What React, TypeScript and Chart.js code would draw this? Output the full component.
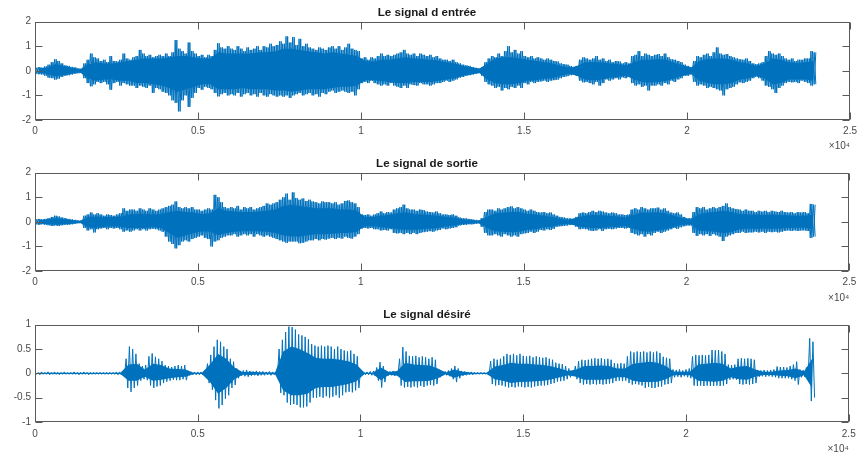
import React, { useEffect, useRef } from "react";
import { Chart, registerables } from "chart.js";

Chart.register(...registerables);

// Sample spacing of each peak/trough bin, and of each solid-core bin (samples)
const sampleStep = 100;
const coreStep = 250;

const titles = ["Le signal d entrée", "Le signal de sortie", "Le signal désiré"];
const xTickStep = 5000;
const xMax = 25000;
const xExponentLabel = "×10⁴";

// ---------- Input signal: per-100-sample peak / trough ----------
const inputHi = [
  0.12, 0.15, 0.13, 0.18, 0.25, 0.35, 0.47, 0.4, 0.3, 0.22,
  0.2, 0.16, 0.14, 0.1, 0.08, 0.3, 0.45, 0.7, 0.55, 0.5,
  0.4, 0.45, 0.35, 0.6, 0.4, 0.38, 0.45, 0.7, 0.5, 0.45,
  0.55, 0.6, 0.85, 0.7, 0.6, 0.65, 0.55, 0.6, 0.65, 0.6,
  0.7, 0.6, 0.75, 1.25, 0.9, 0.8, 0.7, 1.15, 0.8, 0.7,
  0.6, 0.65, 0.55, 0.65, 0.6, 0.85, 1.12, 0.95, 0.9, 1.0,
  0.9, 0.85, 1.0, 0.9, 0.8, 0.95, 0.85, 0.9, 1.0, 0.85,
  1.0, 0.95, 1.1, 1.0, 1.05, 1.2, 1.1, 1.4, 1.15, 1.37,
  1.05, 1.3, 1.0, 1.1, 0.95, 0.9, 0.85, 0.95, 0.9, 0.85,
  0.95, 1.0, 0.9, 1.0, 0.85, 0.95, 1.1, 0.9, 0.85, 0.8,
  0.5, 0.55, 0.45, 0.55, 0.5, 0.6, 0.7, 0.6, 0.65, 0.6,
  0.65, 0.7, 0.75, 0.85, 0.7, 0.65, 0.7, 0.6, 0.7, 0.65,
  0.6, 0.65, 0.55, 0.6, 0.5, 0.45, 0.45, 0.4, 0.45, 0.35,
  0.3, 0.25, 0.22, 0.2, 0.15, 0.12, 0.1, 0.15, 0.35, 0.5,
  0.6, 0.55, 0.7, 0.6, 0.8, 1.0, 0.75, 0.85, 0.7, 0.8,
  0.6, 0.55, 0.6, 0.5, 0.55, 0.5, 0.45, 0.5, 0.45, 0.4,
  0.38, 0.3, 0.27, 0.25, 0.2, 0.15, 0.2, 0.45, 0.55, 0.5,
  0.45, 0.5, 0.6, 0.45, 0.5, 0.4, 0.45, 0.35, 0.4, 0.38,
  0.3, 0.35, 0.3, 0.6, 0.65, 0.8, 0.6, 0.7, 0.65, 0.6,
  0.65, 0.68, 0.6, 0.7, 0.55, 0.47, 0.45, 0.4, 0.35, 0.25,
  0.2, 0.15, 0.4, 0.6, 0.55, 0.65, 0.7, 0.6, 0.75, 0.95,
  0.7, 0.65, 0.68, 0.6, 0.55, 0.5, 0.47, 0.45, 0.5, 0.4,
  0.3, 0.27, 0.3, 0.35, 0.6, 0.8, 0.7, 0.65, 0.7, 0.6,
  0.5, 0.45, 0.5, 0.4, 0.45, 0.45, 0.5, 0.5, 0.8, 0.75,
];
const inputLo = [
  -0.12, -0.14, -0.15, -0.2, -0.28, -0.3, -0.36, -0.32, -0.25, -0.2,
  -0.18, -0.15, -0.12, -0.1, -0.08, -0.3, -0.5, -0.63, -0.55, -0.45,
  -0.5, -0.45, -0.55, -0.77, -0.5, -0.45, -0.6, -0.5, -0.55, -0.6,
  -0.6, -0.7, -0.6, -0.65, -0.7, -0.6, -0.9, -0.7, -0.75, -0.85,
  -0.9, -1.0, -1.2, -1.3, -1.65, -1.2, -1.0, -1.47, -1.1, -0.9,
  -0.7, -0.77, -0.65, -0.7, -0.75, -0.9, -1.04, -0.95, -0.9, -1.0,
  -0.95, -1.0, -0.9, -1.05, -0.95, -0.9, -1.0, -0.95, -1.05, -0.9,
  -1.0, -1.05, -0.95, -1.0, -1.05, -1.0, -1.05, -1.0, -1.1, -1.0,
  -0.95, -0.9, -1.0, -0.95, -0.9, -1.0, -0.95, -1.05, -0.9, -0.95,
  -0.85, -0.8, -0.9, -0.85, -0.8, -0.85, -0.9, -0.85, -1.0, -0.75,
  -0.5, -0.45, -0.5, -0.4, -0.5, -0.55, -0.6, -0.55, -0.6, -0.5,
  -0.6, -0.65, -0.7, -0.6, -0.7, -0.55, -0.58, -0.6, -0.5, -0.55,
  -0.55, -0.6, -0.55, -0.5, -0.5, -0.45, -0.4, -0.45, -0.4, -0.35,
  -0.28, -0.25, -0.2, -0.18, -0.15, -0.12, -0.1, -0.2, -0.45, -0.55,
  -0.6, -0.7, -0.65, -0.8, -0.7, -0.75, -0.65, -0.7, -0.6, -0.7,
  -0.5, -0.55, -0.45, -0.5, -0.45, -0.43, -0.4, -0.45, -0.4, -0.38,
  -0.36, -0.3, -0.25, -0.22, -0.18, -0.15, -0.2, -0.4, -0.47, -0.45,
  -0.5, -0.55, -0.45, -0.6, -0.5, -0.35, -0.4, -0.35, -0.3, -0.35,
  -0.27, -0.3, -0.25, -0.5, -0.6, -0.55, -0.65, -0.6, -0.8, -0.6,
  -0.6, -0.55, -0.6, -0.5, -0.55, -0.4, -0.45, -0.35, -0.3, -0.2,
  -0.2, -0.15, -0.45, -0.6, -0.55, -0.6, -0.7, -0.65, -0.7, -0.75,
  -0.8, -1.0, -0.75, -0.7, -0.65, -0.55, -0.47, -0.5, -0.45, -0.4,
  -0.3, -0.25, -0.3, -0.4, -0.6, -0.65, -0.75, -0.9, -0.7, -0.6,
  -0.5, -0.45, -0.47, -0.45, -0.5, -0.4, -0.45, -0.5, -0.6, -0.55,
];
// Input signal: solid core, per 250 samples
const inputCoreHi = [
  0.1, 0.12, 0.28, 0.2, 0.12, 0.06, 0.25, 0.35, 0.3, 0.3,
  0.35, 0.4, 0.45, 0.5, 0.5, 0.5, 0.55, 0.6, 0.6, 0.55,
  0.5, 0.5, 0.75, 0.7, 0.7, 0.7, 0.7, 0.75, 0.75, 0.8,
  0.9, 0.9, 0.85, 0.8, 0.75, 0.7, 0.75, 0.7, 0.65, 0.6,
  0.4, 0.38, 0.45, 0.45, 0.5, 0.55, 0.5, 0.48, 0.45, 0.42,
  0.35, 0.3, 0.2, 0.15, 0.08, 0.3, 0.5, 0.55, 0.55, 0.5,
  0.45, 0.4, 0.35, 0.3, 0.2, 0.12, 0.2, 0.35, 0.35, 0.35,
  0.3, 0.28, 0.22, 0.35, 0.45, 0.45, 0.48, 0.45, 0.32, 0.22,
  0.12, 0.4, 0.48, 0.5, 0.5, 0.45, 0.35, 0.3, 0.2, 0.3,
  0.5, 0.45, 0.35, 0.32, 0.35, 0.4,
];
const inputCoreLo = [
  -0.08, -0.12, -0.22, -0.18, -0.12, -0.06, -0.3, -0.4, -0.35, -0.35,
  -0.4, -0.4, -0.5, -0.5, -0.55, -0.6, -0.7, -0.85, -0.75, -0.65,
  -0.55, -0.55, -0.75, -0.75, -0.75, -0.7, -0.75, -0.75, -0.75, -0.8,
  -0.8, -0.85, -0.8, -0.75, -0.75, -0.75, -0.7, -0.65, -0.65, -0.6,
  -0.38, -0.38, -0.42, -0.45, -0.5, -0.5, -0.45, -0.45, -0.45, -0.4,
  -0.35, -0.3, -0.2, -0.15, -0.08, -0.35, -0.5, -0.55, -0.55, -0.5,
  -0.4, -0.38, -0.32, -0.3, -0.2, -0.12, -0.2, -0.35, -0.38, -0.35,
  -0.28, -0.25, -0.2, -0.35, -0.45, -0.48, -0.45, -0.4, -0.3, -0.2,
  -0.12, -0.4, -0.5, -0.55, -0.55, -0.5, -0.35, -0.3, -0.2, -0.3,
  -0.55, -0.5, -0.35, -0.35, -0.35, -0.4,
];

// ---------- Output signal ----------
const outputHi = [
  0.1, 0.12, 0.1, 0.12, 0.15, 0.2, 0.25, 0.22, 0.18, 0.15,
  0.12, 0.1, 0.08, 0.06, 0.05, 0.25, 0.3, 0.38, 0.3, 0.35,
  0.3, 0.25, 0.3, 0.28, 0.25, 0.3, 0.35, 0.55, 0.45, 0.5,
  0.5, 0.45, 0.55, 0.5, 0.45, 0.55, 0.5, 0.45, 0.5, 0.55,
  0.6, 0.65, 0.7, 0.83, 0.6, 0.55, 0.6, 0.55, 0.6, 0.5,
  0.5, 0.45, 0.5, 0.55, 0.5, 1.1, 1.0, 0.8, 0.6, 0.55,
  0.6, 0.55, 0.65, 0.5, 0.6, 0.55, 0.6, 0.5, 0.55, 0.6,
  0.65, 0.75, 0.7, 0.75, 0.8, 0.9, 1.0, 1.15, 0.9, 1.2,
  0.97, 0.9, 0.95, 0.85, 0.9, 0.83, 0.8, 0.75, 0.83, 0.8,
  0.8, 0.75, 0.8, 0.7, 0.75, 0.85, 0.87, 0.8, 0.75, 0.6,
  0.3, 0.28, 0.3, 0.25, 0.3, 0.35, 0.42, 0.35, 0.4, 0.38,
  0.5, 0.55, 0.6, 0.7, 0.55, 0.5, 0.5, 0.45, 0.5, 0.48,
  0.42, 0.4, 0.38, 0.42, 0.35, 0.3, 0.3, 0.28, 0.3, 0.25,
  0.18, 0.15, 0.14, 0.12, 0.1, 0.08, 0.07, 0.15, 0.4, 0.5,
  0.5, 0.45, 0.55, 0.5, 0.55, 0.6, 0.63, 0.55, 0.6, 0.55,
  0.5, 0.45, 0.5, 0.45, 0.4, 0.38, 0.4, 0.35, 0.38, 0.3,
  0.25, 0.2, 0.18, 0.15, 0.14, 0.12, 0.2, 0.35, 0.38, 0.35,
  0.4, 0.45, 0.4, 0.45, 0.42, 0.38, 0.35, 0.38, 0.35, 0.3,
  0.3, 0.28, 0.3, 0.5, 0.55, 0.5, 0.6, 0.55, 0.5, 0.55,
  0.55, 0.58, 0.5, 0.55, 0.45, 0.38, 0.35, 0.38, 0.3, 0.2,
  0.15, 0.15, 0.4, 0.6, 0.55, 0.6, 0.5, 0.55, 0.6, 0.55,
  0.6, 0.65, 0.75, 0.6, 0.55, 0.52, 0.5, 0.45, 0.5, 0.45,
  0.45, 0.4, 0.45, 0.42, 0.45, 0.4, 0.45, 0.42, 0.4, 0.45,
  0.4, 0.38, 0.4, 0.35, 0.4, 0.38, 0.4, 0.35, 0.73, 0.7,
];
const outputLo = [
  -0.1, -0.12, -0.1, -0.12, -0.14, -0.17, -0.15, -0.17, -0.14, -0.12,
  -0.12, -0.1, -0.08, -0.06, -0.05, -0.25, -0.35, -0.3, -0.43, -0.3,
  -0.27, -0.25, -0.3, -0.25, -0.27, -0.25, -0.3, -0.4, -0.35, -0.4,
  -0.35, -0.3, -0.35, -0.3, -0.35, -0.3, -0.28, -0.3, -0.35, -0.4,
  -0.6, -0.8, -0.9, -1.08, -0.95, -0.8, -0.75, -0.8, -0.7, -0.65,
  -0.6, -0.55, -0.65, -0.7, -1.0, -0.8, -0.75, -0.65, -0.6, -0.55,
  -0.55, -0.5, -0.6, -0.55, -0.5, -0.55, -0.5, -0.6, -0.5, -0.55,
  -0.6, -0.55, -0.6, -0.65, -0.7, -0.75, -0.8, -0.85, -0.8, -0.8,
  -0.8, -0.87, -0.85, -0.8, -0.75, -0.75, -0.7, -0.75, -0.7, -0.72,
  -0.68, -0.65, -0.7, -0.65, -0.68, -0.6, -0.65, -0.68, -0.6, -0.5,
  -0.27, -0.25, -0.27, -0.25, -0.3, -0.3, -0.35, -0.33, -0.35, -0.3,
  -0.45, -0.47, -0.45, -0.5, -0.45, -0.5, -0.45, -0.5, -0.45, -0.42,
  -0.4, -0.38, -0.4, -0.35, -0.33, -0.27, -0.3, -0.27, -0.25, -0.22,
  -0.15, -0.13, -0.12, -0.1, -0.1, -0.08, -0.07, -0.2, -0.45, -0.55,
  -0.55, -0.5, -0.55, -0.6, -0.5, -0.55, -0.6, -0.55, -0.6, -0.5,
  -0.47, -0.45, -0.4, -0.45, -0.4, -0.33, -0.35, -0.3, -0.33, -0.28,
  -0.2, -0.18, -0.17, -0.15, -0.13, -0.12, -0.2, -0.3, -0.28, -0.3,
  -0.35, -0.37, -0.35, -0.3, -0.37, -0.3, -0.28, -0.3, -0.27, -0.25,
  -0.25, -0.27, -0.25, -0.45, -0.5, -0.55, -0.5, -0.6, -0.5, -0.55,
  -0.45, -0.4, -0.45, -0.4, -0.35, -0.3, -0.25, -0.28, -0.22, -0.18,
  -0.15, -0.15, -0.45, -0.57, -0.5, -0.55, -0.5, -0.57, -0.5, -0.55,
  -0.6, -0.78, -0.6, -0.55, -0.5, -0.45, -0.45, -0.4, -0.45, -0.43,
  -0.43, -0.4, -0.43, -0.4, -0.45, -0.4, -0.42, -0.4, -0.43, -0.4,
  -0.37, -0.35, -0.37, -0.35, -0.37, -0.35, -0.35, -0.37, -0.65, -0.6,
];
const outputCoreHi = [
  0.08, 0.1, 0.15, 0.12, 0.08, 0.04, 0.2, 0.22, 0.2, 0.2,
  0.22, 0.3, 0.32, 0.32, 0.3, 0.32, 0.4, 0.45, 0.4, 0.38,
  0.32, 0.35, 0.55, 0.45, 0.42, 0.4, 0.4, 0.42, 0.45, 0.5,
  0.65, 0.7, 0.65, 0.6, 0.55, 0.55, 0.55, 0.5, 0.5, 0.45,
  0.2, 0.2, 0.25, 0.28, 0.35, 0.38, 0.32, 0.3, 0.28, 0.25,
  0.2, 0.17, 0.1, 0.08, 0.05, 0.2, 0.35, 0.38, 0.4, 0.4,
  0.32, 0.3, 0.25, 0.2, 0.12, 0.08, 0.18, 0.25, 0.28, 0.27,
  0.25, 0.22, 0.18, 0.28, 0.38, 0.38, 0.38, 0.35, 0.25, 0.15,
  0.1, 0.3, 0.38, 0.4, 0.45, 0.4, 0.32, 0.3, 0.3, 0.28,
  0.3, 0.28, 0.27, 0.25, 0.25, 0.3,
];
const outputCoreLo = [
  -0.07, -0.09, -0.12, -0.1, -0.08, -0.04, -0.22, -0.25, -0.2, -0.18,
  -0.2, -0.25, -0.25, -0.25, -0.22, -0.25, -0.45, -0.65, -0.55, -0.45,
  -0.38, -0.4, -0.55, -0.45, -0.4, -0.38, -0.38, -0.38, -0.4, -0.45,
  -0.55, -0.6, -0.6, -0.55, -0.5, -0.5, -0.48, -0.45, -0.45, -0.4,
  -0.18, -0.18, -0.22, -0.25, -0.3, -0.32, -0.32, -0.3, -0.27, -0.25,
  -0.18, -0.15, -0.09, -0.07, -0.05, -0.25, -0.38, -0.4, -0.42, -0.4,
  -0.32, -0.3, -0.22, -0.2, -0.12, -0.08, -0.17, -0.22, -0.25, -0.25,
  -0.22, -0.2, -0.17, -0.28, -0.38, -0.4, -0.35, -0.3, -0.2, -0.12,
  -0.1, -0.35, -0.38, -0.4, -0.45, -0.42, -0.3, -0.28, -0.28, -0.27,
  -0.28, -0.27, -0.25, -0.24, -0.24, -0.3,
];

// ---------- Desired signal ----------
const desiredHi = [
  0.03, 0.02, 0.03, 0.02, 0.03, 0.02, 0.03, 0.02, 0.02, 0.03,
  0.02, 0.02, 0.03, 0.02, 0.02, 0.03, 0.02, 0.02, 0.02, 0.02,
  0.02, 0.02, 0.02, 0.02, 0.02, 0.03, 0.03, 0.04, 0.3, 0.55,
  0.5, 0.4, 0.2, 0.15, 0.17, 0.35, 0.41, 0.34, 0.3, 0.25,
  0.17, 0.15, 0.13, 0.15, 0.17, 0.15, 0.17, 0.04, 0.03, 0.03,
  0.03, 0.03, 0.04, 0.2, 0.38, 0.55, 0.69, 0.65, 0.55, 0.5,
  0.3, 0.24, 0.1, 0.05, 0.06, 0.07, 0.05, 0.04, 0.05, 0.04,
  0.04, 0.03, 0.04, 0.03, 0.03, 0.5, 0.69, 0.85, 0.96, 0.95,
  0.9, 0.8, 0.78, 0.75, 0.7, 0.6, 0.57, 0.55, 0.57, 0.55,
  0.57, 0.55, 0.5, 0.55, 0.5, 0.47, 0.45, 0.47, 0.4, 0.35,
  0.04, 0.03, 0.03, 0.04, 0.05, 0.12, 0.23, 0.15, 0.05, 0.04,
  0.05, 0.04, 0.3, 0.54, 0.45, 0.36, 0.35, 0.36, 0.33, 0.35,
  0.33, 0.3, 0.33, 0.28, 0.08, 0.03, 0.04, 0.06, 0.1, 0.15,
  0.1, 0.05, 0.04, 0.03, 0.03, 0.02, 0.02, 0.02, 0.02, 0.02,
  0.25, 0.3, 0.28, 0.3, 0.35, 0.4, 0.38, 0.4, 0.37, 0.4,
  0.36, 0.35, 0.36, 0.33, 0.35, 0.33, 0.32, 0.33, 0.3, 0.28,
  0.22, 0.2, 0.19, 0.15, 0.1, 0.05, 0.15, 0.25, 0.28, 0.27,
  0.28, 0.3, 0.31, 0.3, 0.31, 0.29, 0.3, 0.28, 0.21, 0.2,
  0.21, 0.2, 0.35, 0.45, 0.43, 0.45, 0.44, 0.45, 0.43, 0.45,
  0.43, 0.45, 0.42, 0.34, 0.32, 0.3, 0.08, 0.07, 0.08, 0.06,
  0.08, 0.1, 0.35, 0.38, 0.37, 0.38, 0.37, 0.38, 0.48, 0.47,
  0.48, 0.45, 0.4, 0.18, 0.17, 0.18, 0.3, 0.31, 0.3, 0.31,
  0.3, 0.28, 0.07, 0.06, 0.07, 0.06, 0.07, 0.08, 0.14, 0.13,
  0.13, 0.12, 0.15, 0.18, 0.24, 0.08, 0.07, 0.12, 0.72, 0.65,
];
const desiredLo = [
  -0.02, -0.03, -0.02, -0.02, -0.03, -0.02, -0.02, -0.03, -0.02, -0.02,
  -0.02, -0.02, -0.02, -0.03, -0.02, -0.02, -0.03, -0.02, -0.02, -0.02,
  -0.02, -0.02, -0.02, -0.02, -0.02, -0.03, -0.03, -0.04, -0.3, -0.38,
  -0.3, -0.25, -0.15, -0.12, -0.14, -0.25, -0.3, -0.27, -0.25, -0.2,
  -0.17, -0.15, -0.13, -0.14, -0.14, -0.12, -0.14, -0.04, -0.03, -0.03,
  -0.03, -0.03, -0.04, -0.2, -0.34, -0.55, -0.72, -0.65, -0.52, -0.45,
  -0.3, -0.24, -0.1, -0.05, -0.06, -0.07, -0.05, -0.04, -0.05, -0.04,
  -0.04, -0.03, -0.04, -0.03, -0.03, -0.4, -0.45, -0.6, -0.65, -0.63,
  -0.65, -0.7, -0.7, -0.68, -0.6, -0.5, -0.5, -0.48, -0.5, -0.47,
  -0.5, -0.48, -0.45, -0.5, -0.45, -0.39, -0.38, -0.39, -0.35, -0.3,
  -0.04, -0.03, -0.03, -0.04, -0.05, -0.15, -0.29, -0.18, -0.05, -0.04,
  -0.05, -0.04, -0.25, -0.29, -0.28, -0.29, -0.27, -0.29, -0.26, -0.28,
  -0.25, -0.24, -0.25, -0.22, -0.08, -0.03, -0.04, -0.06, -0.12, -0.18,
  -0.1, -0.05, -0.04, -0.03, -0.03, -0.02, -0.02, -0.02, -0.02, -0.02,
  -0.22, -0.25, -0.24, -0.25, -0.27, -0.29, -0.28, -0.29, -0.27, -0.28,
  -0.29, -0.28, -0.29, -0.27, -0.26, -0.25, -0.25, -0.24, -0.22, -0.2,
  -0.17, -0.16, -0.15, -0.12, -0.08, -0.05, -0.12, -0.2, -0.23, -0.22,
  -0.23, -0.22, -0.23, -0.22, -0.23, -0.22, -0.21, -0.2, -0.16, -0.15,
  -0.16, -0.15, -0.2, -0.23, -0.22, -0.23, -0.25, -0.3, -0.28, -0.3,
  -0.3, -0.28, -0.27, -0.23, -0.22, -0.2, -0.08, -0.07, -0.08, -0.06,
  -0.08, -0.1, -0.25, -0.26, -0.25, -0.26, -0.25, -0.26, -0.26, -0.25,
  -0.26, -0.25, -0.22, -0.13, -0.12, -0.13, -0.22, -0.23, -0.22, -0.23,
  -0.22, -0.2, -0.07, -0.06, -0.07, -0.06, -0.07, -0.08, -0.1, -0.1,
  -0.1, -0.1, -0.12, -0.15, -0.23, -0.08, -0.07, -0.1, -0.57, -0.5,
];
const desiredCoreHi = [
  0.012, 0.012, 0.012, 0.012, 0.012, 0.012, 0.012, 0.012, 0.012, 0.012,
  0.012, 0.18, 0.2, 0.08, 0.2, 0.17, 0.1, 0.09, 0.08, 0.015,
  0.015, 0.18, 0.4, 0.3, 0.12, 0.03, 0.035, 0.025, 0.02, 0.02,
  0.45, 0.55, 0.5, 0.42, 0.32, 0.3, 0.3, 0.28, 0.25, 0.18,
  0.015, 0.015, 0.12, 0.03, 0.05, 0.22, 0.18, 0.17, 0.16, 0.1,
  0.02, 0.08, 0.04, 0.02, 0.012, 0.012, 0.14, 0.17, 0.22, 0.2,
  0.2, 0.18, 0.17, 0.14, 0.1, 0.05, 0.08, 0.15, 0.15, 0.16,
  0.15, 0.1, 0.1, 0.2, 0.22, 0.24, 0.22, 0.15, 0.04, 0.035,
  0.04, 0.18, 0.2, 0.22, 0.2, 0.1, 0.14, 0.15, 0.08, 0.035,
  0.035, 0.06, 0.07, 0.1, 0.04, 0.3,
];
const desiredCoreLo = [
  -0.012, -0.012, -0.012, -0.012, -0.012, -0.012, -0.012, -0.012, -0.012, -0.012,
  -0.012, -0.15, -0.15, -0.07, -0.15, -0.13, -0.1, -0.08, -0.07, -0.015,
  -0.015, -0.18, -0.42, -0.3, -0.12, -0.03, -0.035, -0.025, -0.02, -0.02,
  -0.35, -0.45, -0.45, -0.42, -0.3, -0.28, -0.28, -0.25, -0.22, -0.16,
  -0.015, -0.015, -0.14, -0.03, -0.05, -0.18, -0.16, -0.16, -0.15, -0.1,
  -0.02, -0.09, -0.04, -0.02, -0.012, -0.012, -0.12, -0.15, -0.2, -0.18,
  -0.17, -0.16, -0.15, -0.12, -0.08, -0.04, -0.07, -0.13, -0.13, -0.13,
  -0.12, -0.08, -0.08, -0.15, -0.18, -0.18, -0.17, -0.12, -0.04, -0.035,
  -0.04, -0.15, -0.16, -0.17, -0.15, -0.08, -0.12, -0.13, -0.07, -0.035,
  -0.035, -0.05, -0.06, -0.1, -0.04, -0.3,
];

const yRanges = [
  { min: -2, max: 2, step: 1 },
  { min: -2, max: 2, step: 1 },
  { min: -1, max: 1, step: 0.5 },
];

const FONT = "'Liberation Sans', Arial, Helvetica, sans-serif";
const AXIS_COLOR = "#4a4a4a";
const BOX_COLOR = "#5a5a5a";
const LINE_COLOR = "#0072BD";

// Peak/trough strokes: each 100-sample bin goes from its peak to its trough
// (phase 1 runs the opposite way, to densify the trace).
function strokes(hi: number[], lo: number[], phase: 0 | 1) {
  const pts: { x: number; y: number }[] = [];
  for (let i = 0; i < hi.length; i++) {
    pts.push({ x: i * sampleStep, y: phase === 0 ? hi[i] : lo[i] });
    pts.push({ x: i * sampleStep + sampleStep / 2, y: phase === 0 ? lo[i] : hi[i] });
  }
  return pts;
}

// Core outline points at the centre of each core bin
function corePoints(v: number[]) {
  return v.map((y, j) => ({ x: j * coreStep + coreStep / 2, y }));
}

const matlabAxes = {
  id: "matlabAxes",
  afterDatasetsDraw(chart: any) {
    const { ctx, chartArea: a, scales } = chart;
    const L = Math.round(a.left) + 0.5;
    const R = Math.round(a.right) - 0.5;
    const T = Math.round(a.top) + 0.5;
    const B = Math.round(a.bottom) - 0.5;
    const tl = 7;
    ctx.save();
    ctx.strokeStyle = BOX_COLOR;
    ctx.lineWidth = 1;
    ctx.beginPath();
    for (const t of scales.x.ticks) {
      const px = Math.round(scales.x.getPixelForValue(t.value)) + 0.5;
      ctx.moveTo(px, B);
      ctx.lineTo(px, B - tl);
      ctx.moveTo(px, T);
      ctx.lineTo(px, T + tl);
    }
    for (const t of scales.y.ticks) {
      const py = Math.round(scales.y.getPixelForValue(t.value)) + 0.5;
      ctx.moveTo(L, py);
      ctx.lineTo(L + tl, py);
      ctx.moveTo(R, py);
      ctx.lineTo(R - tl, py);
    }
    ctx.stroke();
    ctx.strokeRect(L, T, R - L, B - T);
    ctx.restore();
  },
};

type Panel = {
  title: string;
  hi: number[];
  lo: number[];
  coreHi: number[];
  coreLo: number[];
  dense: boolean;
  y: { min: number; max: number; step: number };
  top: number;
  height: number;
  titlePadTop: number;
  titlePadBottom: number;
  xAxisHeight: number;
  tickPad: number;
  expPadBottom: number;
};

const panels: Panel[] = [
  { title: titles[0], hi: inputHi, lo: inputLo, coreHi: inputCoreHi, coreLo: inputCoreLo, dense: true, y: yRanges[0], top: 0, height: 158, titlePadTop: 5.5, titlePadBottom: 2.2, xAxisHeight: 38, tickPad: 5, expPadBottom: 6 },
  { title: titles[1], hi: outputHi, lo: outputLo, coreHi: outputCoreHi, coreLo: outputCoreLo, dense: true, y: yRanges[1], top: 150, height: 158, titlePadTop: 6.5, titlePadBottom: 2.3, xAxisHeight: 37, tickPad: 5.7, expPadBottom: 4 },
  { title: titles[2], hi: desiredHi, lo: desiredLo, coreHi: desiredCoreHi, coreLo: desiredCoreLo, dense: false, y: yRanges[2], top: 300, height: 159, titlePadTop: 8.2, titlePadBottom: 2.6, xAxisHeight: 37, tickPad: 6.3, expPadBottom: 4 },
];

function SignalPlot({ p }: { p: Panel }) {
  const ref = useRef<HTMLCanvasElement | null>(null);
  useEffect(() => {
    if (!ref.current) return;
    const strokeSet = (phase: 0 | 1) => ({
      data: strokes(p.hi, p.lo, phase),
      borderColor: LINE_COLOR,
      borderWidth: 1,
      pointRadius: 0,
      fill: false,
      tension: 0,
    });
    const datasets: any[] = [
      {
        data: corePoints(p.coreHi),
        borderColor: LINE_COLOR,
        backgroundColor: LINE_COLOR,
        borderWidth: 0,
        pointRadius: 0,
        fill: "+1",
        tension: 0,
      },
      {
        data: corePoints(p.coreLo),
        borderColor: LINE_COLOR,
        borderWidth: 0,
        pointRadius: 0,
        fill: false,
        tension: 0,
      },
      strokeSet(0),
    ];
    if (p.dense) datasets.push(strokeSet(1));
    const chart = new Chart(ref.current, {
      type: "line",
      data: { datasets },
      options: {
        animation: false,
        responsive: false,
        events: [],
        parsing: false,
        layout: { padding: { left: 0, right: 8, top: 0, bottom: 0 } },
        plugins: {
          legend: { display: false },
          tooltip: { enabled: false },
          title: {
            display: true,
            text: p.title,
            color: "#1a1a1a",
            font: { family: FONT, size: 11.6, weight: "bold" },
            padding: { top: p.titlePadTop, bottom: p.titlePadBottom },
          },
        },
        scales: {
          x: {
            type: "linear",
            min: 0,
            max: xMax,
            grid: { display: false, drawTicks: false, tickLength: 0 },
            border: { display: false },
            ticks: {
              stepSize: xTickStep,
              autoSkip: false,
              maxRotation: 0,
              color: AXIS_COLOR,
              font: { family: FONT, size: 10 },
              padding: p.tickPad,
              callback: (v: any) => String(Number(v) / 10000),
            },
            title: {
              display: true,
              text: xExponentLabel,
              align: "end",
              color: AXIS_COLOR,
              font: { family: FONT, size: 10 },
              padding: { top: 0, bottom: p.expPadBottom },
            },
            afterFit: (s: any) => {
              s.height = p.xAxisHeight;
            },
          },
          y: {
            type: "linear",
            min: p.y.min,
            max: p.y.max,
            grid: { display: false, drawTicks: false, tickLength: 0 },
            border: { display: false },
            ticks: {
              stepSize: p.y.step,
              color: AXIS_COLOR,
              font: { family: FONT, size: 10 },
              padding: 4,
              callback: (v: any) => String(Number(v)),
            },
            afterFit: (s: any) => {
              s.width = 35;
            },
          },
        },
      } as any,
      plugins: [matlabAxes],
    });
    return () => chart.destroy();
  }, [p]);
  return (
    <canvas
      ref={ref}
      width={862}
      height={p.height}
      style={{ position: "absolute", left: 0, top: p.top, width: 862, height: p.height }}
    />
  );
}

export default function App() {
  return (
    <div style={{ position: "absolute", left: 0, top: 0, width: 862, height: 459, background: "#fff" }}>
      {panels.map((p, i) => (
        <SignalPlot key={i} p={p} />
      ))}
    </div>
  );
}
